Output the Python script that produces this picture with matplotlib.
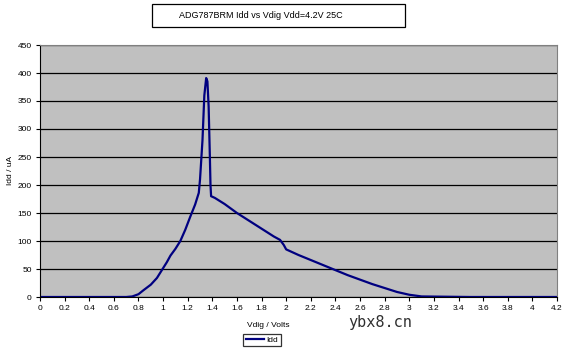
import matplotlib
matplotlib.use('Agg')
import matplotlib.pyplot as plt
import numpy as np

# dados
vdig = [0.0, 0.7, 0.75, 0.8, 0.84, 0.9, 0.95, 0.99, 1.03, 1.06, 1.1, 1.14, 1.18, 1.22, 1.26, 1.29,
        1.30, 1.32, 1.335, 1.35, 1.36, 1.37, 1.38, 1.385, 1.39, 1.42, 1.5, 1.6, 1.7, 1.8, 1.9,
        1.95, 1.98, 2.0, 2.1, 2.2, 2.3, 2.4, 2.5, 2.6, 2.7, 2.8, 2.9, 3.0, 3.1, 3.5, 4.2]
idd = [0, 0, 1, 5, 12, 22, 34, 48, 62, 74, 86, 100, 120, 143, 165, 186,
       210, 280, 360, 391, 385, 340, 250, 200, 180, 177, 166, 150, 136, 122, 108,
       102, 93, 85, 75, 66, 57, 48, 39, 31, 23, 16, 9, 4, 1, 0, 0]

xticks = np.arange(0, 4.21, 0.2)
xticklabels = ['0', '0.2', '0.4', '0.6', '0.8', '1', '1.2', '1.4', '1.6', '1.8', '2',
               '2.2', '2.4', '2.6', '2.8', '3', '3.2', '3.4', '3.6', '3.8', '4', '4.2']
yticks = np.arange(0, 451, 50)

plt.rcParams['font.family'] = ['Liberation Sans', 'DejaVu Sans']

fig = plt.figure(figsize=(5.7, 3.51), dpi=100)
ax = fig.add_axes([40/570, 1 - 297/351, 517/570, 252/351])
ax.set_facecolor('#c0c0c0')

ax.plot(vdig, idd, color='#000080', lw=1.6, label='Idd')

ax.set_xlim(0, 4.2)
ax.set_ylim(0, 450)
ax.set_xticks(xticks)
ax.set_xticklabels(xticklabels)
ax.set_yticks(yticks)
ax.tick_params(labelsize=6, length=3, width=0.8, pad=3)
ax.grid(axis='y', color='black', lw=0.9)
ax.set_axisbelow(True)
for s in ['top', 'right']:
    ax.spines[s].set_color('#808080')
for s in ['left', 'bottom']:
    ax.spines[s].set_color('black')

ax.set_xlabel('Vdig / Volts', fontsize=6)
ax.xaxis.set_label_coords((268 - 40)/517, -(322 - 297)/252)
ax.set_ylabel('Idd / uA', fontsize=6)
ax.yaxis.set_label_coords(-(40 - 14)/517, (297 - 170)/252)

# titulo com caixa
fig.text(261/570, 1 - 16/351, 'ADG787BRM Idd vs Vdig Vdd=4.2V 25C', fontsize=6.5,
         ha='center', va='center')
fig.patches.append(plt.Rectangle((152/570, 1 - 27/351), 253/570, 23/351,
                                 transform=fig.transFigure, fill=False, ec='black', lw=0.9))

# marca d'agua
fig.text(380/570, 1 - 322/351, 'ybx8.cn', fontsize=11, family='DejaVu Sans Mono',
         color='#303030', ha='center', va='center')

leg = fig.legend(loc='center', bbox_to_anchor=(262/570, 1 - 340/351), fontsize=6,
                 frameon=True, fancybox=False, edgecolor='black', handlelength=2.2,
                 borderpad=0.3, handletextpad=0.3)
leg.get_frame().set_linewidth(0.9)

plt.savefig('out.png', dpi=100)
